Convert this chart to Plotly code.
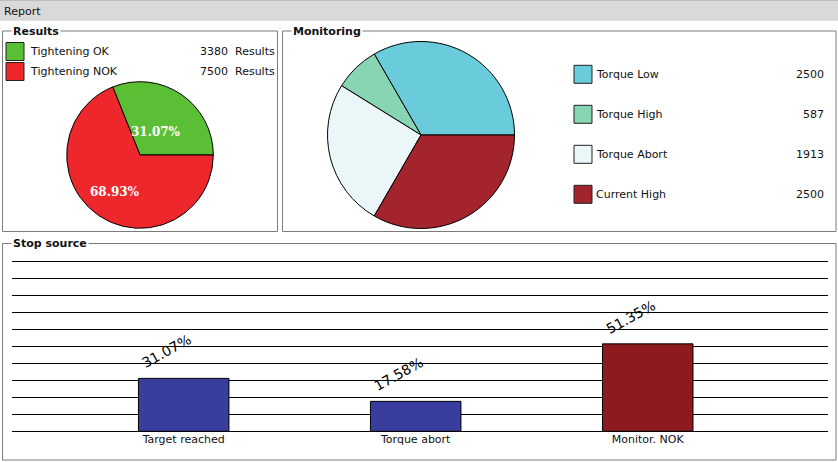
import math
import plotly.graph_objects as go

W, H = 838, 462
FONT = "DejaVu Sans"

# ---------------- data ----------------
result_names = ["Tightening OK", "Tightening NOK"]
result_values = [3380, 7500]
result_colors = ["#5bbf35", "#ee272d"]

monitor_names = ["Torque Low", "Torque High", "Torque Abort", "Current High"]
monitor_values = [2500, 587, 1913, 2500]
monitor_colors = ["#6acbdb", "#88d5b4", "#eaf6f8", "#a4242e"]

stop_categories = ["Target reached", "Torque abort", "Monitor. NOK"]
stop_percent = [31.07, 17.58, 51.35]
stop_colors = ["#393e9e", "#393e9e", "#8e1a1f"]


def px(x):
    return x / W


def py(y):
    return 1 - y / H


def first_slice_rotation(values):
    # plotly (counterclockwise) places the first slice clockwise from `rotation`;
    # choose rotation so the first slice starts at 3 o'clock and runs counterclockwise
    return 90 - 360 * values[0] / sum(values)


fig = go.Figure()

# ---------------- Results pie ----------------
c1x, c1y, r1 = 140, 155, 73.3
fig.add_trace(go.Pie(
    labels=result_names, values=result_values, sort=False,
    direction="counterclockwise", rotation=first_slice_rotation(result_values),
    marker=dict(colors=result_colors, line=dict(color="black", width=1)),
    textinfo="none", hoverinfo="label+value+percent", showlegend=False,
    domain=dict(x=[px(c1x - r1), px(c1x + r1)], y=[py(c1y + r1), py(c1y - r1)]),
))

# ---------------- Monitoring pie ----------------
c2x, c2y, r2 = 421, 135, 93.5
fig.add_trace(go.Pie(
    labels=monitor_names, values=monitor_values, sort=False,
    direction="counterclockwise", rotation=first_slice_rotation(monitor_values),
    marker=dict(colors=monitor_colors, line=dict(color="black", width=1)),
    textinfo="none", hoverinfo="label+value+percent", showlegend=False,
    domain=dict(x=[px(c2x - r2), px(c2x + r2)], y=[py(c2y + r2), py(c2y - r2)]),
))

# ---------------- Stop source bars ----------------
fig.add_trace(go.Bar(
    x=stop_categories, y=stop_percent, width=0.39,
    marker=dict(color=stop_colors, line=dict(color="black", width=1)),
    showlegend=False, hoverinfo="x+y",
))

annotations = []
shapes = []

# bar value labels
for cat, v in zip(stop_categories, stop_percent):
    annotations.append(dict(
        x=cat, y=v, xref="x", yref="y", text=f"{v:.2f}%", showarrow=False,
        textangle=-29, xanchor="center", yanchor="middle", xshift=-17, yshift=27,
        font=dict(family=FONT, size=14, color="black"),
    ))

# pie percent labels
total = sum(result_values)
start = 0.0
label_r = [28, 45]
for i, v in enumerate(result_values):
    frac = v / total
    mid = math.radians(start + frac * 180)
    start += frac * 360
    lx = c1x + label_r[i] * math.cos(mid)
    ly = c1y - label_r[i] * math.sin(mid)
    annotations.append(dict(
        x=px(lx), y=py(ly), xref="paper", yref="paper", showarrow=False,
        text=f"<b>{frac*100:.2f}%</b>", xanchor="center", yanchor="middle",
        font=dict(family="DejaVu Serif", size=12, color="white"),
    ))

# title bar
shapes.append(dict(type="rect", xref="paper", yref="paper", x0=0, x1=1, y0=py(20.7), y1=1,
                   fillcolor="#d9d9d9", line=dict(width=0), layer="below"))
shapes.append(dict(type="line", xref="paper", yref="paper", x0=0, x1=1, y0=py(0.5), y1=py(0.5),
                   line=dict(color="#bdbdbd", width=1)))
annotations.append(dict(x=px(2), y=py(11), xref="paper", yref="paper", text="Report",
                        showarrow=False, xanchor="left", yanchor="middle",
                        font=dict(family=FONT, size=11, color="#111")))

# group boxes
boxes = [
    ("Results", 2.5, 31, 277.5, 231.5),
    ("Monitoring", 282.5, 31, 836, 231.5),
    ("Stop source", 2.5, 243.5, 836, 460),
]
for title, x0, y0, x1, y1 in boxes:
    shapes.append(dict(type="rect", xref="paper", yref="paper",
                       x0=px(x0), x1=px(x1), y0=py(y1), y1=py(y0),
                       line=dict(color="#7a7a7a", width=1), fillcolor="rgba(0,0,0,0)", layer="below"))
    annotations.append(dict(x=px(x0 + 8), y=py(y0), xref="paper", yref="paper",
                            text=f"<b>{title}</b>", showarrow=False, xanchor="left", yanchor="middle",
                            bgcolor="white", borderpad=1,
                            font=dict(family=FONT, size=11, color="#111")))

# Results legend
for i, (name, val, col) in enumerate(zip(result_names, result_values, result_colors)):
    yc = 51.5 + i * 20
    shapes.append(dict(type="rect", xref="paper", yref="paper",
                       x0=px(6), x1=px(24), y0=py(yc + 9), y1=py(yc - 9),
                       fillcolor=col, line=dict(color="#222", width=1)))
    annotations.append(dict(x=px(28), y=py(yc), xref="paper", yref="paper", text=name,
                            showarrow=False, xanchor="left", yanchor="middle",
                            font=dict(family=FONT, size=11, color="#111")))
    annotations.append(dict(x=px(276.5), y=py(yc), xref="paper", yref="paper", text=f"{val}  Results",
                            showarrow=False, xanchor="right", yanchor="middle",
                            font=dict(family=FONT, size=11, color="#111")))

# Monitoring legend
for i, (name, val, col) in enumerate(zip(monitor_names, monitor_values, monitor_colors)):
    yc = 74.3 + i * 40
    shapes.append(dict(type="rect", xref="paper", yref="paper",
                       x0=px(574), x1=px(592), y0=py(yc + 9), y1=py(yc - 9),
                       fillcolor=col, line=dict(color="#222", width=1)))
    annotations.append(dict(x=px(594), y=py(yc), xref="paper", yref="paper", text=name,
                            showarrow=False, xanchor="left", yanchor="middle",
                            font=dict(family=FONT, size=11, color="#111")))
    annotations.append(dict(x=px(826), y=py(yc), xref="paper", yref="paper", text=str(val),
                            showarrow=False, xanchor="right", yanchor="middle",
                            font=dict(family=FONT, size=11, color="#111")))

fig.update_layout(
    width=W, height=H, margin=dict(l=0, r=0, t=0, b=0),
    paper_bgcolor="white", plot_bgcolor="white",
    font=dict(family=FONT, size=11, color="#111"),
    xaxis=dict(domain=[px(12), px(828)], range=[-0.74, 2.777], showgrid=False, zeroline=False,
               showline=False, ticks="", tickfont=dict(family=FONT, size=11, color="#111"),
               fixedrange=True),
    yaxis=dict(domain=[py(431.3), py(257.6)], range=[0, 102], dtick=10, showgrid=True,
               gridcolor="black", gridwidth=1, zeroline=True, zerolinecolor="black",
               zerolinewidth=1, showticklabels=False, ticks="", fixedrange=True),
    shapes=shapes, annotations=annotations,
)

fig.write_html("out.html")
